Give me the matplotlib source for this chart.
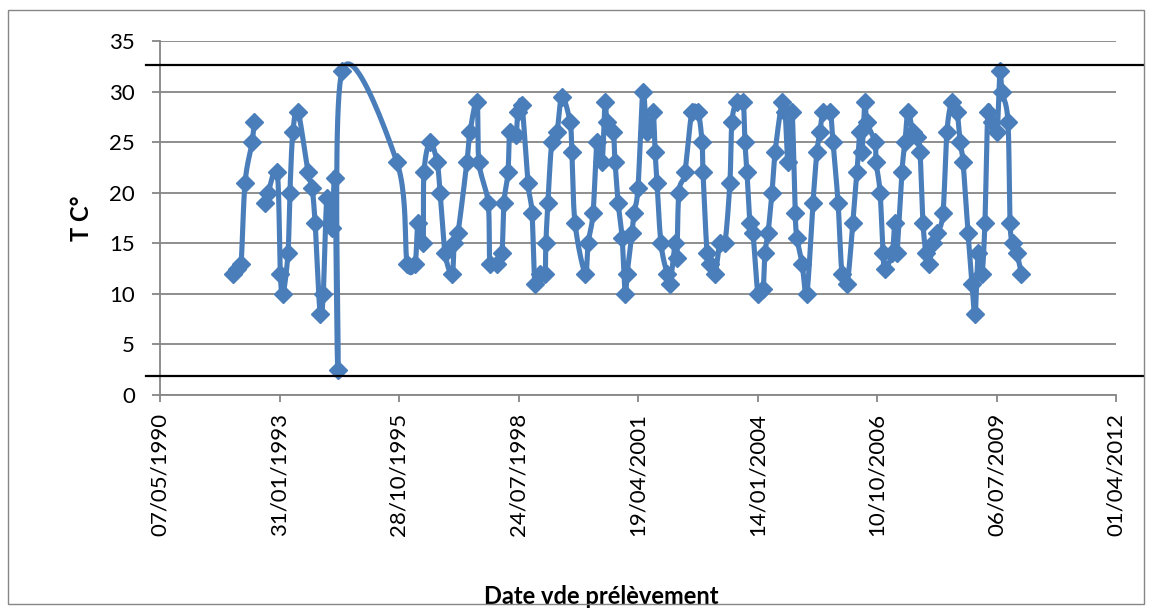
import numpy as np
import pandas as pd
import matplotlib
matplotlib.use('Agg')
import matplotlib.pyplot as plt
import matplotlib.dates as mdates
from matplotlib.patches import Rectangle

# dates de prélèvement (NaN = coupure de la série)
dates = [
    '1992-01-09', '1992-02-12', '1992-03-15', '1992-04-18', '1992-06-16', '1992-07-02',
    '1992-08-15',
    '1992-10-03', '1992-10-28', '1993-01-12', '1993-02-07', '1993-03-01', '1993-04-12',
    '1993-04-28', '1993-05-23', '1993-07-05', '1993-09-27', '1993-10-30', '1993-11-25',
    '1994-01-06', '1994-02-01', '1994-03-04', '1994-04-15', '1994-05-10', '1994-06-05',
    '1994-07-08', '1995-10-11', '1996-01-04', '1996-03-10', '1996-04-04', '1996-05-16',
    '1996-05-24', '1996-07-13', '1996-09-11', '1996-10-06', '1996-11-17', '1997-01-15',
    '1997-02-01', '1997-03-04', '1997-05-18', '1997-06-13', '1997-08-11', '1997-08-27',
    '1997-11-12', '1997-11-28', '1998-01-26', '1998-03-07', '1998-03-24', '1998-04-27',
    '1998-05-13', '1998-07-02', '1998-07-19', '1998-08-22', '1998-10-11', '1998-11-14',
    '1998-12-09', '1999-01-20', '1999-03-02', '1999-03-10', '1999-03-27', '1999-04-29',
    '1999-06-11', '1999-07-22', '1999-09-28', '1999-10-14', '1999-11-09', '2000-02-02',
    '2000-02-26', '2000-04-08', '2000-05-11', '2000-06-22', '2000-07-17', '2000-08-03',
    '2000-09-23', '2000-10-09', '2000-11-04', '2000-12-07', '2001-01-02', '2001-01-18',
    '2001-02-28', '2001-03-16', '2001-04-19', '2001-05-30', '2001-07-03', '2001-08-22',
    '2001-09-09', '2001-09-25', '2001-10-28', '2001-12-18', '2002-01-13', '2002-02-24',
    '2002-03-10', '2002-03-27', '2002-05-16', '2002-07-14', '2002-09-04', '2002-10-07',
    '2002-10-15', '2002-11-18', '2002-12-13', '2003-01-24', '2003-03-05', '2003-04-16',
    '2003-05-28', '2003-06-14', '2003-07-25', '2003-09-15', '2003-10-01', '2003-10-18',
    '2003-11-12', '2003-12-07', '2004-01-18', '2004-02-29', '2004-03-16', '2004-04-11',
    '2004-05-14', '2004-06-09', '2004-08-07', '2004-09-01', '2004-09-26', '2004-10-29',
    '2004-11-24', '2004-12-10', '2005-01-21', '2005-03-02', '2005-04-22', '2005-05-25',
    '2005-06-20', '2005-07-15', '2005-09-12', '2005-10-07', '2005-11-18', '2005-12-21',
    '2006-02-02', '2006-03-22', '2006-04-25', '2006-05-20', '2006-06-06', '2006-07-01',
    '2006-07-17', '2006-09-23', '2006-10-02', '2006-11-05', '2006-11-29', '2006-12-16',
    '2007-02-14', '2007-03-08', '2007-03-25', '2007-05-06', '2007-06-01', '2007-06-26',
    '2007-08-07', '2007-09-10', '2007-10-05', '2007-10-30', '2007-11-24', '2007-12-19',
    '2008-01-22', '2008-02-25', '2008-04-14', '2008-05-17', '2008-06-28', '2008-08-10',
    '2008-09-04', '2008-09-29', '2008-11-10', '2008-12-13', '2009-01-08', '2009-02-03',
    '2009-03-06', '2009-03-31', '2009-04-25', '2009-05-29', '2009-07-10', '2009-08-04',
    '2009-08-21', '2009-10-10', '2009-10-27', '2009-11-21', '2009-12-24', '2010-01-30',
]
temperatures = [
    12, 12.5, 13, 21, 25, 27,
    np.nan,
    19, 20, 22, 12, 10, 14,
    20, 26, 28, 22, 20.5, 17,
    8, 10, 19.5, 16.5, 21.5, 2.5,
    32, 23, 13, 13, 17, 15,
    22, 25, 23, 20, 14, 12,
    15, 16, 23, 26, 29, 23,
    19, 13, 13, 14, 19, 22,
    26, 25.7, 28, 28.7, 21, 18,
    11, 12, 12, 15, 19, 25,
    26, 29.5, 27, 24, 17, 12,
    15, 18, 25, 23, 29, 27,
    26, 23, 19, 15.5, 10, 12,
    16, 18, 20.5, 30, 26, 28,
    24, 21, 15, 12, 11, 15,
    13.5, 20, 22, 28, 28, 25,
    22, 14, 13, 12, 15, 15,
    21, 27, 29, 29, 25, 22,
    17, 16, 10, 10.5, 14, 16,
    20, 24, 29, 28, 23, 28,
    18, 15.5, 13, 10, 19, 24,
    26, 28, 28, 25, 19, 12,
    11, 17, 22, 26, 24, 29,
    27, 25, 23, 20, 14, 12.5,
    14, 17, 14, 22, 25, 28,
    26, 25.5, 24, 17, 14, 13,
    15, 16, 18, 26, 29, 28,
    25, 23, 16, 11, 8, 14,
    12, 17, 28, 27, 26, 32,
    30, 27, 17, 15, 14, 12,
]
seuils = [1.9, 32.6]
debut, fin = '1990-05-07', '2012-04-01'
ticks_x = ['1990-05-07', '1993-01-31', '1995-10-28', '1998-07-24', '2001-04-19',
           '2004-01-14', '2006-10-10', '2009-07-06', '2012-04-01']
ticks_y = [0, 5, 10, 15, 20, 25, 30, 35]

bleu = '#4A7EBB'
gris = '#868686'
plt.rcParams['font.family'] = ['Lato', 'DejaVu Sans']


def lisser(x, y, k=1/6, n=24):
    # courbe lissée façon Excel (bezier cardinal)
    xs, ys = [x[0]], [y[0]]
    m = len(x)
    s = np.linspace(0, 1, n)[1:]
    for i in range(m - 1):
        i0, i3 = max(i - 1, 0), min(i + 2, m - 1)
        c1x = x[i] + (x[i + 1] - x[i0]) * k
        c1y = y[i] + (y[i + 1] - y[i0]) * k
        c2x = x[i + 1] - (x[i3] - x[i]) * k
        c2y = y[i + 1] - (y[i3] - y[i]) * k
        a, b, c, d = (1 - s) ** 3, 3 * (1 - s) ** 2 * s, 3 * (1 - s) * s ** 2, s ** 3
        xs.extend(a * x[i] + b * c1x + c * c2x + d * x[i + 1])
        ys.extend(a * y[i] + b * c1y + c * c2y + d * y[i + 1])
    return np.array(xs), np.array(ys)


df = pd.DataFrame({'date': pd.to_datetime(dates), 'T': temperatures})
df['num'] = mdates.date2num(df['date'])

fig = plt.figure(figsize=(11.52, 6.12), dpi=100)
fig.add_artist(Rectangle((8 / 1152, 1 - 604 / 612), 1136 / 1152, 594 / 612,
                         transform=fig.transFigure, fill=False, ec=gris, lw=1))
ax = fig.add_axes([160 / 1152, 1 - 395 / 612, 956 / 1152, 354 / 612])

# segments séparés par les valeurs manquantes
groupe = df['T'].isna().cumsum()
for _, seg in df.dropna().groupby(groupe[df['T'].notna()]):
    xs, ys = lisser(seg['num'].values, seg['T'].values)
    ax.plot(xs, ys, color=bleu, lw=3.7, solid_capstyle='round',
            solid_joinstyle='round', zorder=3)
ax.plot(df['num'], df['T'], ls='none', marker='D', ms=9, color=bleu,
        mec=bleu, zorder=4)

for v in seuils:
    ax.plot([-0.015, 1.028], [v, v], transform=ax.get_yaxis_transform(),
            color='black', lw=1.6, clip_on=False, zorder=5)

ax.set_xlim(mdates.date2num(pd.Timestamp(debut)), mdates.date2num(pd.Timestamp(fin)))
ax.set_ylim(0, 35)
ax.set_xticks(mdates.date2num(pd.to_datetime(ticks_x)))
ax.xaxis.set_major_formatter(mdates.DateFormatter('%d/%m/%Y'))
ax.set_yticks(ticks_y)
ax.grid(axis='y', color=gris, lw=1.3)
ax.set_axisbelow(True)
for s in ['top', 'right']:
    ax.spines[s].set_visible(False)
for s in ['left', 'bottom']:
    ax.spines[s].set_color(gris)
    ax.spines[s].set_linewidth(1.3)
ax.tick_params(axis='y', length=6, color=gris, width=1.3, pad=12, labelsize=16)
ax.tick_params(axis='x', length=5, color=gris, width=1.3, pad=8, labelsize=16,
               labelrotation=90)

ax.set_ylabel('T C°', fontsize=17, fontweight='bold', labelpad=12)
ax.set_xlabel('Date vde prélèvement', fontsize=17, fontweight='bold', va='center')
ax.xaxis.set_label_coords((601 - 160) / 956, -(597 - 395) / 354)

fig.savefig('out.png', dpi=100)
